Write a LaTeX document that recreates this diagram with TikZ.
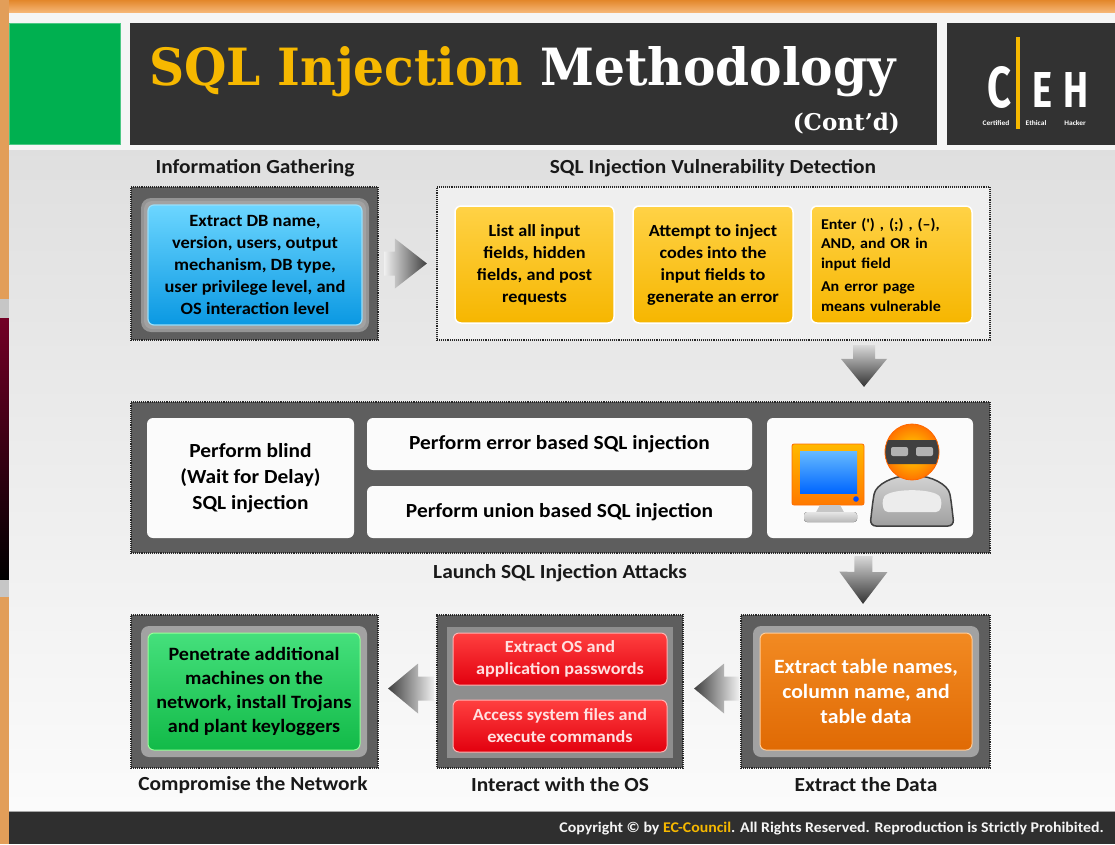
\documentclass[tikz,border=0pt]{standalone}
\usepackage{fontspec}
\setmainfont{Carlito}[FakeStretch=1.07]
\newfontfamily\titlefont{DejaVu Serif}
\newfontfamily\logofont{Fira Sans}
\usetikzlibrary{calc}

\definecolor{slidebg}{HTML}{EBEBEB}
\definecolor{titlebar}{HTML}{323232}
\definecolor{ceh}{HTML}{00B050}
\definecolor{sqlyellow}{HTML}{F6B800}
\definecolor{framegray}{HTML}{5E5E5E}
\definecolor{glowgray}{HTML}{A2A2A2}
\definecolor{footer}{HTML}{2F2F2F}
\definecolor{HTMLblueT}{HTML}{6CD6FF}
\definecolor{HTMLblueB}{HTML}{0A98E2}
\definecolor{HTMLyelT}{HTML}{FFD246}
\definecolor{HTMLyelB}{HTML}{F6B600}
\definecolor{HTMLredT}{HTML}{FF4040}
\definecolor{HTMLredB}{HTML}{E2000E}
\definecolor{HTMLoraT}{HTML}{F28A22}
\definecolor{HTMLoraB}{HTML}{E06A04}
\definecolor{HTMLgrnT}{HTML}{45E07C}
\definecolor{HTMLgrnB}{HTML}{12BA48}

% arrow body from #2 to tip #3: #4 head length, #5 half body width, #6 half head width
\newcommand\blockarrow[6]{%
  \coordinate (ba-h) at ($(#3)!#4!(#2)$);
  \path[#1] ($(#2)!#5!90:(#3)$) -- ($(ba-h)!#5!-90:(#2)$) -- ($(ba-h)!#6!-90:(#2)$)
    -- (#3) -- ($(ba-h)!#6!90:(#2)$) -- ($(ba-h)!#5!90:(#2)$) -- ($(#2)!#5!-90:(#3)$) -- cycle;}

\begin{document}
\begin{tikzpicture}[x=1pt,y=-1pt,
  dotframe/.style={draw=black!85, line width=2.2pt, dash pattern=on 1pt off 0.9pt, inner sep=0pt},
  darkframe/.style={dotframe, fill=framegray},
  lightframe/.style={dotframe, fill=slidebg!80!white},
  card/.style={rounded corners=6pt, inner sep=0pt, align=center, font=\bfseries},
  bluecard/.style={card, draw=cyan!40, line width=1.2pt, top color=HTMLblueT, bottom color=HTMLblueB},
  yellowcard/.style={card, draw=white, line width=1.5pt, top color=HTMLyelT, bottom color=HTMLyelB},
  whitecard/.style={card, fill=white!97!gray},
  redcard/.style={card, draw=red!30, line width=1pt, top color=HTMLredT, bottom color=HTMLredB, text=white!88!red},
  orangecard/.style={card, draw=orange!40, line width=1pt, top color=HTMLoraT, bottom color=HTMLoraB, text=white},
  greencard/.style={card, draw=green!40, line width=1pt, top color=HTMLgrnT, bottom color=HTMLgrnB},
  steplabel/.style={font=\fontsize{20}{22}\selectfont\bfseries, text=black!90}
]

\useasboundingbox (0,0) rectangle (1115,844);

% ---------- slide background ----------
\fill[top color=HTMLoraT!70!brown, bottom color=HTMLoraT!60!white] (0,0) rectangle (1115,13);
\fill[HTMLoraT!55!brown!80!white] (0,0) rectangle (9,844);
\fill[gray!45] (0,299) rectangle (9,597);
\fill[top color=purple!60!black, bottom color=black] (0,318) rectangle (9,579);
\fill[gray!8] (9,13) rectangle (1115,150);
\fill[top color=slidebg!95!black, bottom color=white!97!gray] (9,150) rectangle (1115,812);
\fill[footer] (9,812) rectangle (1115,844);
\draw[gray!70, line width=1pt] (9,811.5) -- (1115,811.5);

% ---------- header ----------
\node[fill=ceh, draw=ceh!70!white, minimum width=111pt, minimum height=121pt, inner sep=0pt] (greenbox) at (65,84) {};
\node[fill=titlebar, minimum width=807pt, minimum height=122pt, inner sep=0pt] (titlebox) at (533.5,84) {};
\node[fill=titlebar, minimum width=170pt, minimum height=122pt, inner sep=0pt] (logobox) at (1032,84) {};

\node[anchor=base west, inner sep=0pt, text=white] (title) at (149,85)
  {\resizebox{746pt}{39pt}{\titlefont\bfseries{\color{sqlyellow}SQL Injection} Methodology}};
\node[anchor=base east, inner sep=0pt, text=white] (contd) at (900,130)
  {\resizebox{107pt}{!}{\titlefont\bfseries (Cont’d)}};

% CEH logo
\fill[sqlyellow] (1016,37) rectangle (1019.5,129);
\node[anchor=base, inner sep=0pt, text=white] (logoC) at (999,107) {\resizebox{24pt}{41pt}{\logofont\bfseries C}};
\node[anchor=base, inner sep=0pt, text=white] (logoE) at (1042,107) {\resizebox{20pt}{35pt}{\logofont\bfseries E}};
\node[anchor=base, inner sep=0pt, text=white] (logoH) at (1076,107) {\resizebox{25pt}{35pt}{\logofont\bfseries H}};
\node[inner sep=0pt, text=white, font=\fontsize{7}{8}\selectfont\bfseries] (logoc1) at (996,123) {Certified};
\node[inner sep=0pt, text=white, font=\fontsize{7}{8}\selectfont\bfseries] (logoc2) at (1036,123) {Ethical};
\node[inner sep=0pt, text=white, font=\fontsize{7}{8}\selectfont\bfseries] (logoc3) at (1075,123) {Hacker};

% ---------- row 1 ----------
\node[steplabel] (lab-ig) at (255,168) {Information Gathering};
\node[steplabel] (lab-vd) at (713,168) {SQL Injection Vulnerability Detection};

\node[darkframe, minimum width=247pt, minimum height=153pt] (igframe) at (254.5,263.5) {};
\fill[glowgray!80!framegray, rounded corners=10pt] (141,198) rectangle (369,332);
\fill[glowgray, rounded corners=8pt] (144,201) rectangle (366,329);
\node[bluecard, minimum width=214pt, minimum height=120pt, font=\fontsize{17.2}{22}\selectfont\bfseries] (ig) at (255,265)
  {Extract DB name,\\version, users, output\\mechanism, DB type,\\user privilege level, and\\OS interaction level};

\node[lightframe, minimum width=553pt, minimum height=153pt] (vdframe) at (713.5,263.5) {};
\node[yellowcard, minimum width=159pt, minimum height=117pt, font=\fontsize{17}{22}\selectfont\bfseries] (vd1) at (534.5,264.5)
  {List all input\\fields, hidden\\fields, and post\\requests};
\node[yellowcard, minimum width=160pt, minimum height=117pt, font=\fontsize{17}{22}\selectfont\bfseries] (vd2) at (713,264.5)
  {Attempt to inject\\codes into the\\input fields to\\generate an error};
\node[yellowcard, minimum width=161pt, minimum height=117pt, align=left, text width=141pt, font=\fontsize{15}{19.5}\selectfont\bfseries] (vd3) at (891.5,264.5)
  {Enter (\textquotesingle) , (;) , (--),\\AND, and OR in\\input field\\[4pt]An error page\\means vulnerable};

% ---------- row 2 ----------
\node[darkframe, minimum width=859pt, minimum height=151pt] (laframe) at (560.5,477.5) {};
\node[whitecard, minimum width=207pt, minimum height=120pt, font=\fontsize{20}{26}\selectfont\bfseries] (blind) at (250.5,478)
  {Perform blind\\(Wait for Delay)\\SQL injection};
\node[whitecard, minimum width=385pt, minimum height=52pt, font=\fontsize{20}{22}\selectfont\bfseries] (errinj) at (559.5,444)
  {Perform error based SQL injection};
\node[whitecard, minimum width=385pt, minimum height=52pt, font=\fontsize{20}{22}\selectfont\bfseries] (unioninj) at (559.5,512)
  {Perform union based SQL injection};
\node[whitecard, minimum width=206pt, minimum height=120pt] (attacker) at (870,478) {};
\node[steplabel] (lab-la) at (560,573) {Launch SQL Injection Attacks};

% attacker icon: monitor
\draw[orange!85!red, line width=0.8pt, top color=orange!55!yellow, bottom color=orange!95!red, rounded corners=2pt]
  (792,444) rectangle (864,505);
\fill[top color=cyan!55!blue!60, bottom color=blue!60!cyan] (800,451) rectangle (857,493);
\fill[blue!70!cyan] (856,499) circle (2.8pt);
\fill[gray!45] (820,505) -- (840,505) -- (845,514) -- (815,514) -- cycle;
\fill[top color=gray!20, bottom color=gray!55, rounded corners=3pt] (804,512) rectangle (857,522);
% attacker icon: hooded figure
\draw[black!75, line width=1.5pt, top color=gray!35, bottom color=gray!75, rounded corners=6pt]
  (870,526) -- (873,500) .. controls (876,484) and (894,476) .. (912,476)
  .. controls (930,476) and (948,484) .. (951,500) -- (954,526) -- cycle;
\fill[white!85!gray, rounded corners=4pt] (882,500) .. controls (890,488) and (934,488) .. (942,500) -- (940,512) -- (884,512) -- cycle;
\begin{scope}
  \clip (912,452) ellipse (27pt and 28pt);
  \shade[inner color=yellow!70!orange, outer color=orange!90!red] (912,452) ellipse (27pt and 28pt);
  \fill[black!75, rounded corners=4pt] (882,440) rectangle (942,464);
  \fill[gray!60, rounded corners=2pt] (891,447) rectangle (908,456);
  \fill[gray!60, rounded corners=2pt] (916,447) rectangle (933,456);
\end{scope}
\draw[orange!80!red, line width=0.8pt] (912,452) ellipse (27pt and 28pt);

% ---------- row 3 ----------
\node[darkframe, minimum width=249pt, minimum height=153pt] (edframe) at (865.5,691.5) {};
\fill[glowgray, rounded corners=8pt] (753,626) rectangle (979,757);
\node[orangecard, minimum width=212pt, minimum height=117pt, font=\fontsize{20.3}{25}\selectfont\bfseries] (data) at (866,691.5)
  {Extract table names,\\column name, and\\table data};
\node[steplabel] (lab-ed) at (866,785) {Extract the Data};

\node[darkframe, minimum width=246pt, minimum height=153pt] (osframe) at (560,691.5) {};
\fill[glowgray!70!framegray] (447,627) rectangle (673,758);
\node[redcard, minimum width=214pt, minimum height=52pt, font=\fontsize{17}{22}\selectfont\bfseries] (ospw) at (560,659)
  {Extract OS and\\application passwords};
\node[redcard, minimum width=214pt, minimum height=52pt, font=\fontsize{17}{22}\selectfont\bfseries] (osfiles) at (560,726)
  {Access system files and\\execute commands};
\node[steplabel] (lab-os) at (560,785) {Interact with the OS};

\node[darkframe, minimum width=247pt, minimum height=153pt] (cnframe) at (254.5,691.5) {};
\fill[glowgray, rounded corners=8pt] (141,626) rectangle (367,757);
\node[greencard, minimum width=212pt, minimum height=117pt, font=\fontsize{18.8}{24}\selectfont\bfseries] (net) at (254,691.5)
  {Penetrate additional\\machines on the\\network, install Trojans\\and plant keyloggers};
\node[steplabel] (lab-cn) at (253,785) {Compromise the Network};

% ---------- flow arrows ----------
\coordinate (a1s) at ($(igframe.east)+(5,0)$);
\coordinate (a1e) at ($(vdframe.west)+(-9,0)$);
\blockarrow{left color=gray!12, right color=black!75}{a1s}{a1e}{32pt}{12pt}{25pt}

\coordinate (a2s) at ($(vdframe.south)+(150.5,4)$);
\coordinate (a2e) at ($(laframe.north)+(303.5,-14)$);
\blockarrow{top color=gray!30, bottom color=black!80}{a2s}{a2e}{28pt}{11pt}{23pt}

\coordinate (a3s) at ($(laframe.south)+(303,2)$);
\coordinate (a3e) at ($(edframe.north)+(-2.5,-10)$);
\blockarrow{top color=gray!30, bottom color=black!80}{a3s}{a3e}{32pt}{9pt}{24pt}

\coordinate (a4s) at ($(edframe.west)+(-1,-3)$);
\coordinate (a4e) at ($(osframe.east)+(10,-3)$);
\blockarrow{right color=gray!12, left color=black!75}{a4s}{a4e}{30pt}{12pt}{25pt}

\coordinate (a5s) at ($(osframe.west)+(-2,-3)$);
\coordinate (a5e) at ($(cnframe.east)+(9,-3)$);
\blockarrow{right color=gray!12, left color=black!75}{a5s}{a5e}{30pt}{12pt}{25pt}

% ---------- footer ----------
\node[anchor=east, inner sep=0pt, text=white!92!gray, font=\fontsize{14.8}{16}\selectfont\bfseries] (copyright) at (1104,829)
  {Copyright \textcopyright{} by {\color{sqlyellow}EC-Council}. All Rights Reserved. Reproduction is Strictly Prohibited.};
\end{tikzpicture}
\end{document}
